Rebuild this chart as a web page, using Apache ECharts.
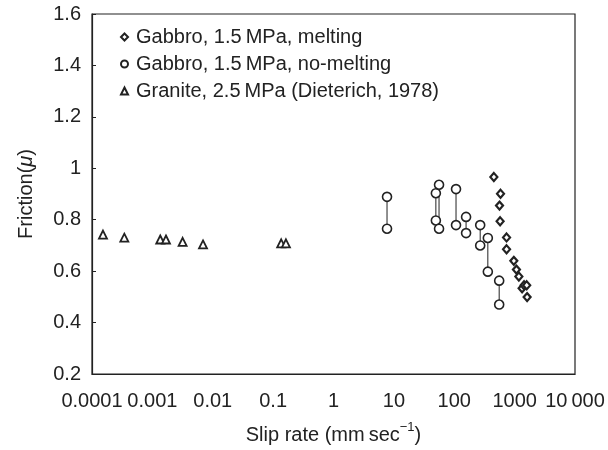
<!DOCTYPE html>
<html>
<head>
<meta charset="utf-8">
<script src="https://cdn.jsdelivr.net/npm/echarts@6/dist/echarts.min.js"></script>
<style>
html,body{margin:0;padding:0;background:#fff;}
#chart{width:608px;height:450px;}
</style>
</head>
<body>
<div id="chart"></div>
<script>
// legend names
var seriesNames = ['Gabbro, 1.5\u2009MPa, melting', 'Gabbro, 1.5\u2009MPa, no-melting', 'Granite, 2.5\u2009MPa (Dieterich, 1978)'];

// x tick labels, one per decade from 1e-4 to 1e4
var xTickLabels = ['0.0001', '0.001', '0.01', '0.1', '1', '10', '100', '1000', '10\u2009000'];

// melting gabbro
var meltX = [453, 584, 562, 575, 735, 735, 970, 1072, 1175, 1330, 1436, 1585, 1610];
var meltY = [0.966, 0.901, 0.855, 0.794, 0.731, 0.685, 0.640, 0.606, 0.579, 0.533, 0.545, 0.545, 0.499];

// no-melting gabbro, pairs (high, low) at the same slip rate
var noMeltX  = [7.7, 49.6, 56, 107, 157, 269, 360, 555];
var noMeltHi = [0.889, 0.903, 0.936, 0.919, 0.811, 0.779, 0.729, 0.563];
var noMeltLo = [0.765, 0.797, 0.765, 0.779, 0.748, 0.700, 0.598, 0.470];

// granite
var graniteX = [0.000152, 0.000343, 0.00135, 0.00168, 0.00317, 0.0069, 0.136, 0.163];
var graniteY = [0.742, 0.730, 0.723, 0.723, 0.714, 0.704, 0.708, 0.708];

var font = '"Liberation Sans", Arial, sans-serif';
var ink = '#222';

var chart = echarts.init(document.getElementById('chart'), null, {renderer: 'canvas'});

function zip(xs, ys) {
    var out = [];
    for (var i = 0; i < xs.length; i++) out.push([xs[i], ys[i]]);
    return out;
}

var noMeltPts = zip(noMeltX, noMeltHi).concat(zip(noMeltX, noMeltLo));

var series = [];
// vertical connectors for each no-melting pair
for (var i = 0; i < noMeltX.length; i++) {
    series.push({
        type: 'line',
        silent: true,
        symbol: 'none',
        z: 1,
        lineStyle: {color: ink, width: 1},
        data: [[noMeltX[i], noMeltHi[i]], [noMeltX[i], noMeltLo[i]]]
    });
}
series.push({
    name: seriesNames[0],
    type: 'scatter',
    symbol: 'diamond',
    symbolSize: [7, 8],
    z: 3,
    itemStyle: {color: '#fff', borderColor: ink, borderWidth: 2.2, opacity: 1},
    data: zip(meltX, meltY)
});
series.push({
    name: seriesNames[1],
    type: 'scatter',
    symbol: 'circle',
    symbolSize: 9,
    z: 3,
    itemStyle: {color: '#fff', borderColor: ink, borderWidth: 1.6, opacity: 1},
    data: noMeltPts
});
series.push({
    name: seriesNames[2],
    type: 'scatter',
    symbol: 'triangle',
    symbolSize: 8,
    z: 3,
    itemStyle: {color: '#fff', borderColor: ink, borderWidth: 1.8, opacity: 1},
    data: zip(graniteX, graniteY)
});

var option = {
    backgroundColor: '#fff',
    animation: false,
    textStyle: {fontFamily: font, color: ink},
    grid: {
        left: 92, right: 33, top: 14, bottom: 73,
        show: true, borderColor: ink, borderWidth: 1.2
    },
    legend: {
        orient: 'vertical',
        left: 115,
        top: 22,
        itemGap: 7,
        itemWidth: 7,
        itemHeight: 7,
        selectedMode: false,
        data: [
            {name: seriesNames[0], icon: 'diamond'},
            {name: seriesNames[1], icon: 'circle'},
            {name: seriesNames[2], icon: 'triangle'}
        ],
        textStyle: {fontFamily: font, fontSize: 20, color: ink, padding: [0, 0, 0, 3]}
    },
    xAxis: {
        type: 'log',
        logBase: 10,
        min: 0.0001,
        max: 10000,
        splitNumber: 8,
        name: '{a|Slip rate (mm\u2009sec}{s|\u22121}{a|)}',
        nameLocation: 'middle',
        nameGap: 47,
        nameTextStyle: {
            rich: {
                a: {fontFamily: font, fontSize: 20, color: ink, lineHeight: 24, verticalAlign: 'bottom'},
                s: {fontFamily: font, fontSize: 13, color: ink, verticalAlign: 'top'}
            }
        },
        axisLine: {show: true, lineStyle: {color: ink, width: 1.2}},
        axisTick: {show: false},
        splitLine: {show: false},
        axisLabel: {
            fontFamily: font, fontSize: 20, color: ink, margin: 17,
            showMinLabel: true, showMaxLabel: true, hideOverlap: false,
            formatter: function (v) {
                var k = Math.round(Math.log10(v)) + 4;
                return xTickLabels[k] || '';
            }
        }
    },
    yAxis: {
        type: 'value',
        min: 0.2,
        max: 1.6,
        interval: 0.2,
        name: '{a|Friction(}{i|\u03bc}{a|)}',
        nameLocation: 'middle',
        nameGap: 56,
        nameTextStyle: {
            rich: {
                a: {fontFamily: font, fontSize: 20, color: ink},
                i: {fontFamily: font, fontSize: 20, color: ink, fontStyle: 'italic'}
            }
        },
        axisLine: {show: true, lineStyle: {color: ink, width: 1.2}},
        axisTick: {show: true, inside: true, length: 4, lineStyle: {color: ink}},
        splitLine: {show: false},
        axisLabel: {
            fontFamily: font, fontSize: 20, color: ink, margin: 11,
            formatter: function (v) { return String(Math.round(v * 10) / 10); }
        }
    },
    series: series
};

chart.setOption(option);
</script>
</body>
</html>
